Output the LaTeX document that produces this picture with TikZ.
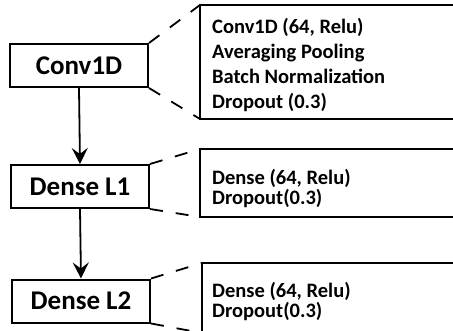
\documentclass[tikz,border=0pt]{standalone}
\usepackage{fontspec}
\setmainfont{Carlito}
\usetikzlibrary{arrows.meta}
\begin{document}
\begin{tikzpicture}[x=1pt,y=-1pt,
  layer/.style={draw=black,line width=2pt,minimum width=138pt,minimum height=43pt,inner sep=0pt,
     font=\fontsize{27}{30}\selectfont\bfseries},
  detail/.style={draw=black,line width=2pt},
  dtext/.style={anchor=base west,inner sep=0pt,font=\fontsize{20.5}{24}\selectfont\bfseries},
  zoomline/.style={line width=1.8pt,dash pattern=on 13pt off 13pt},
  flow/.style={line width=1.8pt,-{Stealth[length=16pt,width=16pt,inset=6pt]}}]
\useasboundingbox (0,0) rectangle (453,330);
% left layer boxes
\node[layer] (c) at (79,65.5) {Conv1D};
\node[layer] (d1) at (80,186.5) {Dense L1};
\node[layer] (d2) at (81,301) {Dense L2};
% right detail boxes (cut by the page edge)
\coordinate (b1tl) at (200,5);
\coordinate (b1bl) at (200,119);
\coordinate (b2tl) at (200,149);
\coordinate (b2bl) at (200,217);
\coordinate (b3tl) at (202,263);
\coordinate (b3bl) at (202,333);
\draw[detail] (470,5) -- (b1tl) -- (b1bl) -- (470,119);
\draw[detail] (470,149) -- (b2tl) -- (b2bl) -- (470,217);
\draw[detail] (470,263) -- (b3tl) -- (b3bl);
% texts
\node[dtext] (t11) at (212,33.3) {Conv1D (64, Relu)};
\node[dtext] (t12) at (212,58.3) {Averaging Pooling};
\node[dtext] (t13) at (212,83.3) {Batch Normalization};
\node[dtext] (t14) at (212,108.3) {Dropout (0.3)};
\node[dtext] (t21) at (212,184) {Dense (64, Relu)};
\node[dtext] (t22) at (212,204) {Dropout(0.3)};
\node[dtext] (t31) at (212,297) {Dense (64, Relu)};
\node[dtext] (t32) at (212,317) {Dropout(0.3)};
% zoom lines
\draw[zoomline] (c.north east) -- (b1tl);
\draw[zoomline] (c.south east) -- (b1bl);
\draw[zoomline] (d1.north east) -- (b2tl);
\draw[zoomline] (d1.south east) -- (b2bl);
\draw[zoomline] (d2.north east) -- (b3tl);
\draw[zoomline] (d2.south east) -- (b3bl);
% flow arrows
\draw[flow] (c.south) -- (d1.north);
\draw[flow] (d1.south) -- (d2.north);
\end{tikzpicture}
\end{document}
